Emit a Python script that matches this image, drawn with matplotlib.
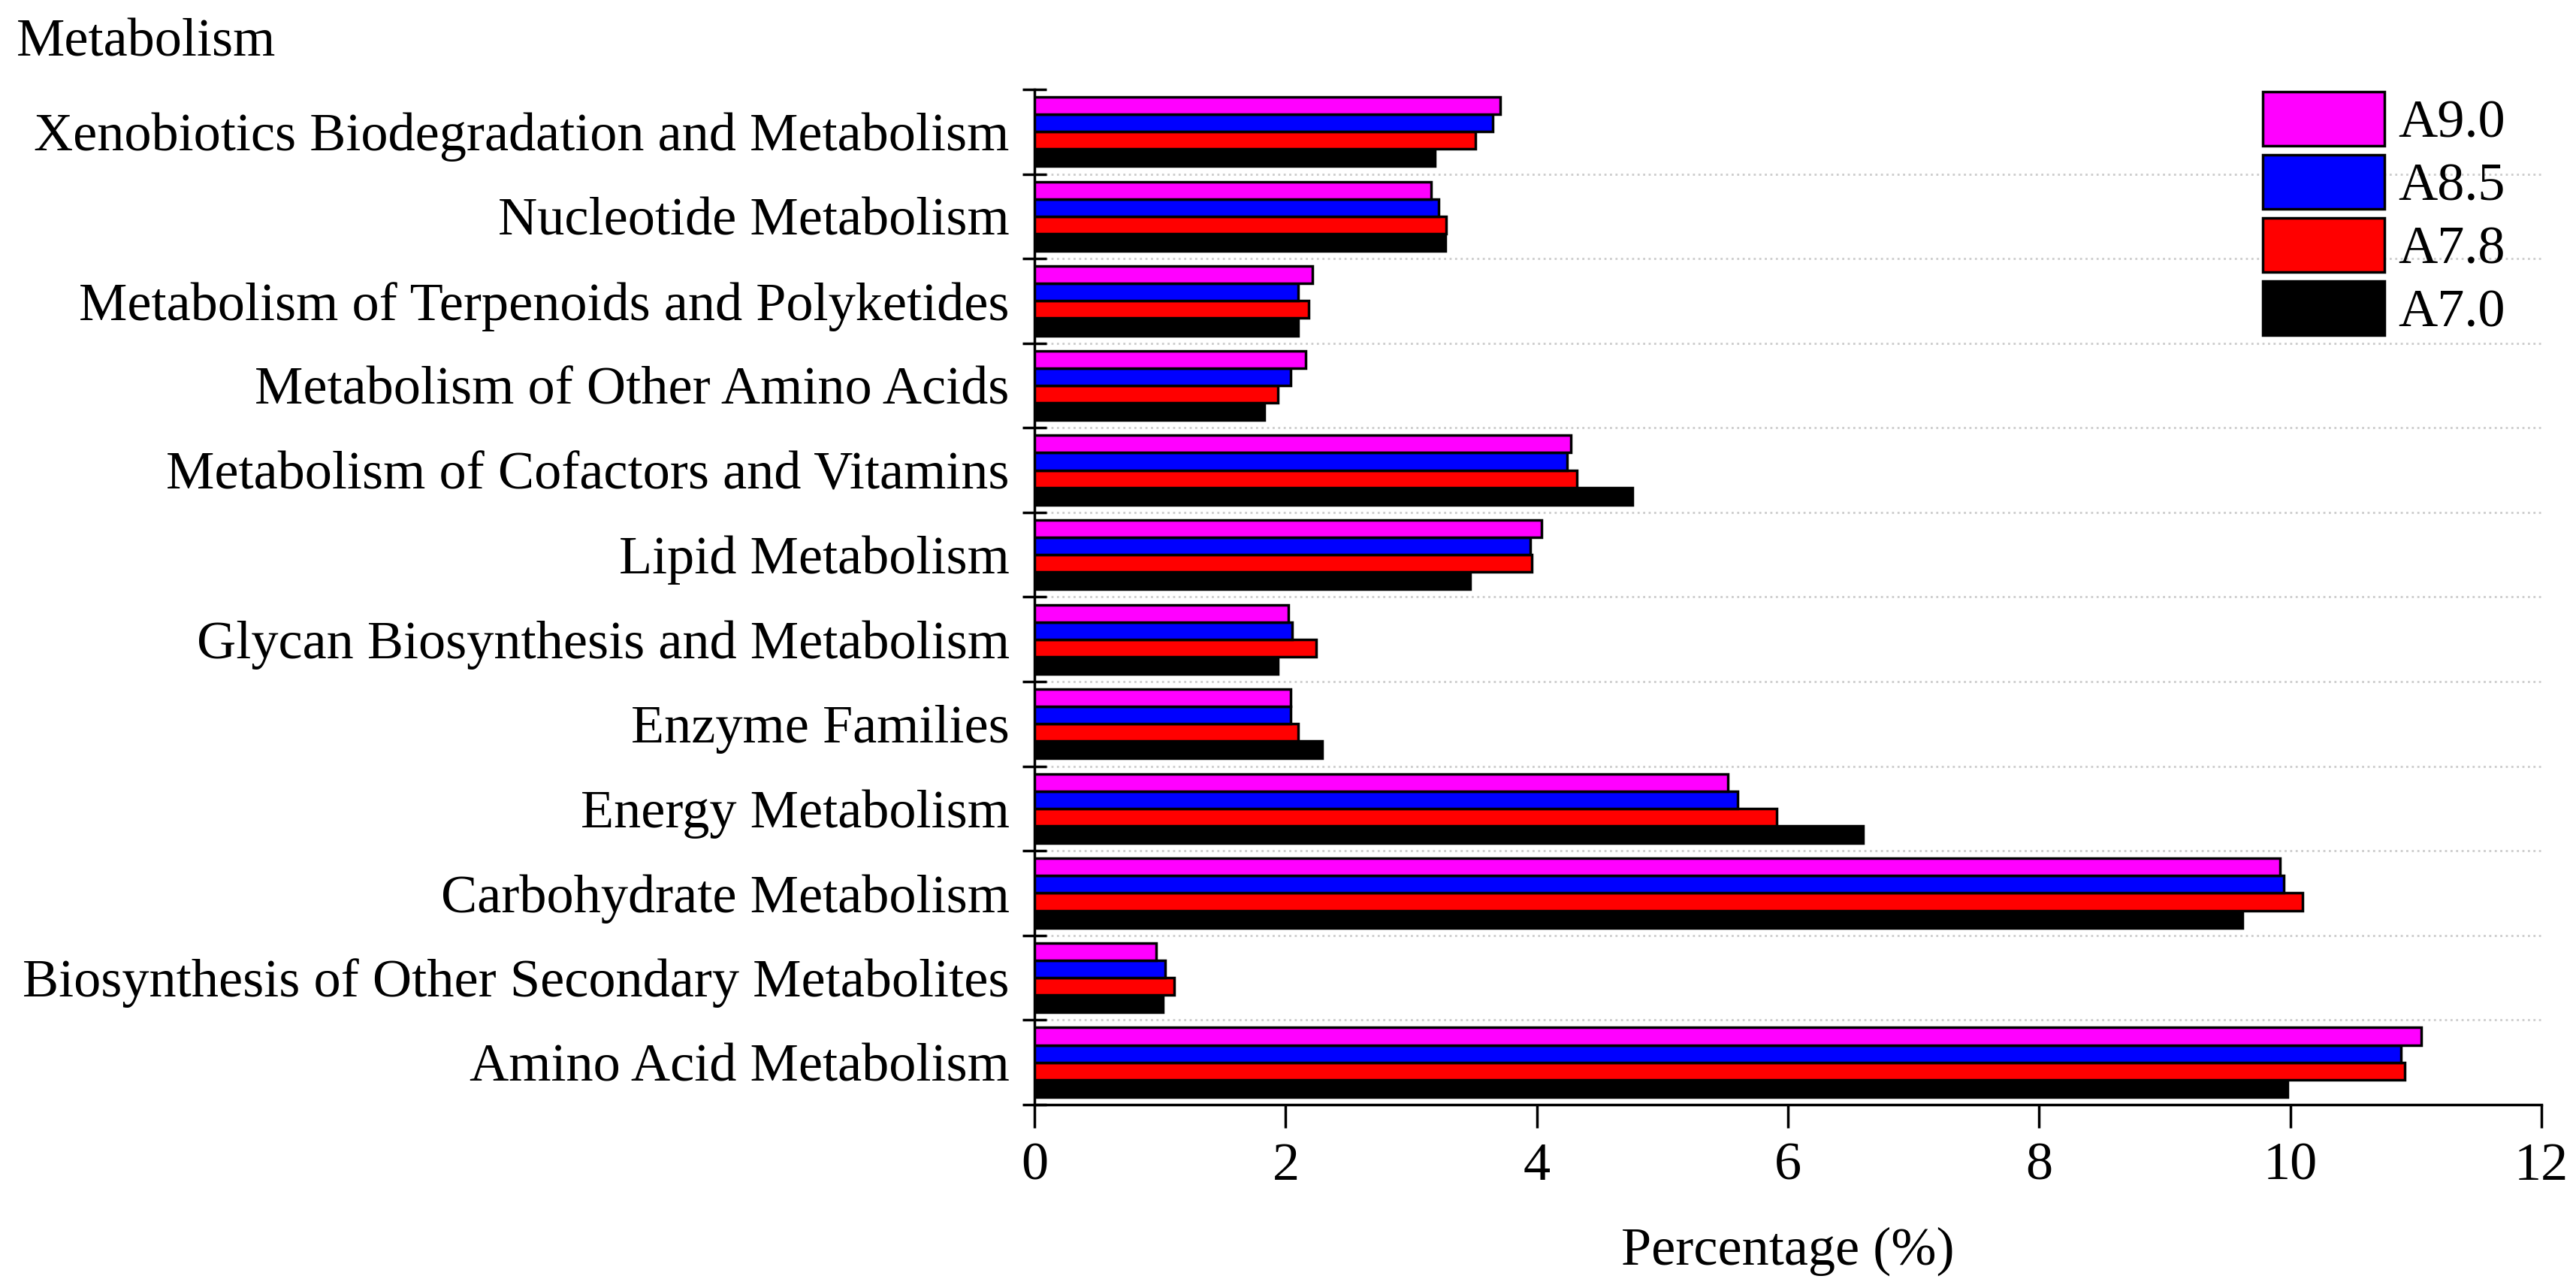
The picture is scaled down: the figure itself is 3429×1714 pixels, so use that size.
import matplotlib
matplotlib.use('Agg')
import matplotlib.pyplot as plt
import numpy as np

plt.rcParams['font.family'] = ['Liberation Serif', 'DejaVu Serif']

# categories from bottom to top
categories = ['Amino Acid Metabolism',
              'Biosynthesis of Other Secondary Metabolites',
              'Carbohydrate Metabolism',
              'Energy Metabolism',
              'Enzyme Families',
              'Glycan Biosynthesis and Metabolism',
              'Lipid Metabolism',
              'Metabolism of Cofactors and Vitamins',
              'Metabolism of Other Amino Acids',
              'Metabolism of Terpenoids and Polyketides',
              'Nucleotide Metabolism',
              'Xenobiotics Biodegradation and Metabolism']

a70 = [9.98, 1.02, 9.62, 6.60, 2.29, 1.94, 3.47, 4.76, 1.83, 2.10, 3.27, 3.19]
a78 = [10.91, 1.11, 10.10, 5.91, 2.10, 2.24, 3.96, 4.32, 1.94, 2.18, 3.28, 3.51]
a85 = [10.88, 1.04, 9.95, 5.60, 2.04, 2.05, 3.95, 4.24, 2.04, 2.10, 3.22, 3.65]
a90 = [11.04, 0.97, 9.92, 5.52, 2.04, 2.02, 4.04, 4.27, 2.16, 2.21, 3.16, 3.71]

series = [('A7.0', a70, '#000000'),
          ('A7.8', a78, '#ff0000'),
          ('A8.5', a85, '#0000ff'),
          ('A9.0', a90, '#ff00ff')]

fs = 52
fig = plt.figure(figsize=(34.3, 17.14), dpi=100)
ax = fig.add_axes([0.4015, 0.1424, 0.9863 - 0.4015, 0.9306 - 0.1424])

y = np.arange(len(categories))
h = 0.205
for i, (name, vals, col) in enumerate(series):
    ax.barh(y + (i - 1.5) * h, vals, height=h, color=col, edgecolor='black',
            linewidth=2.5, label=name, zorder=3)

ax.set_xlim(0, 12)
ax.set_ylim(-0.5, len(categories) - 0.5)
ax.set_xticks(np.arange(0, 13, 2))
ax.tick_params(axis='x', direction='out', length=22, width=2.5, pad=14, labelsize=fs)

bounds = np.arange(len(categories) + 1) - 0.5
ax.set_yticks(bounds)
ax.set_yticklabels([])
ax.set_yticks(y, minor=True)
ax.set_yticklabels(categories, minor=True, fontsize=fs)
ax.tick_params(axis='y', which='major', direction='inout', length=23, width=2.5)
ax.tick_params(axis='y', which='minor', length=0, pad=24)

for b in bounds[1:-1]:
    ax.axhline(b, color='#cccccc', linestyle=':', linewidth=2, zorder=1)

for s in ['top', 'right']:
    ax.spines[s].set_visible(False)
for s in ['left', 'bottom']:
    ax.spines[s].set_linewidth(2.5)

ax.set_xlabel('Percentage (%)', fontsize=fs, labelpad=34)

handles, labels = ax.get_legend_handles_labels()
ax.legend(handles[::-1], labels[::-1], loc='upper left',
          bbox_to_anchor=(3012 / 3430, 1 - 122 / 1714), bbox_transform=fig.transFigure,
          frameon=False, fontsize=fs, handlelength=2.25, handleheight=1.15,
          labelspacing=0.12, handletextpad=0.25, borderpad=0, borderaxespad=0)

fig.text(22 / 3430, 1 - 57 / 1714, 'Metabolism', fontsize=fs, va='center', ha='left')

fig.savefig('out.png', dpi=100)
